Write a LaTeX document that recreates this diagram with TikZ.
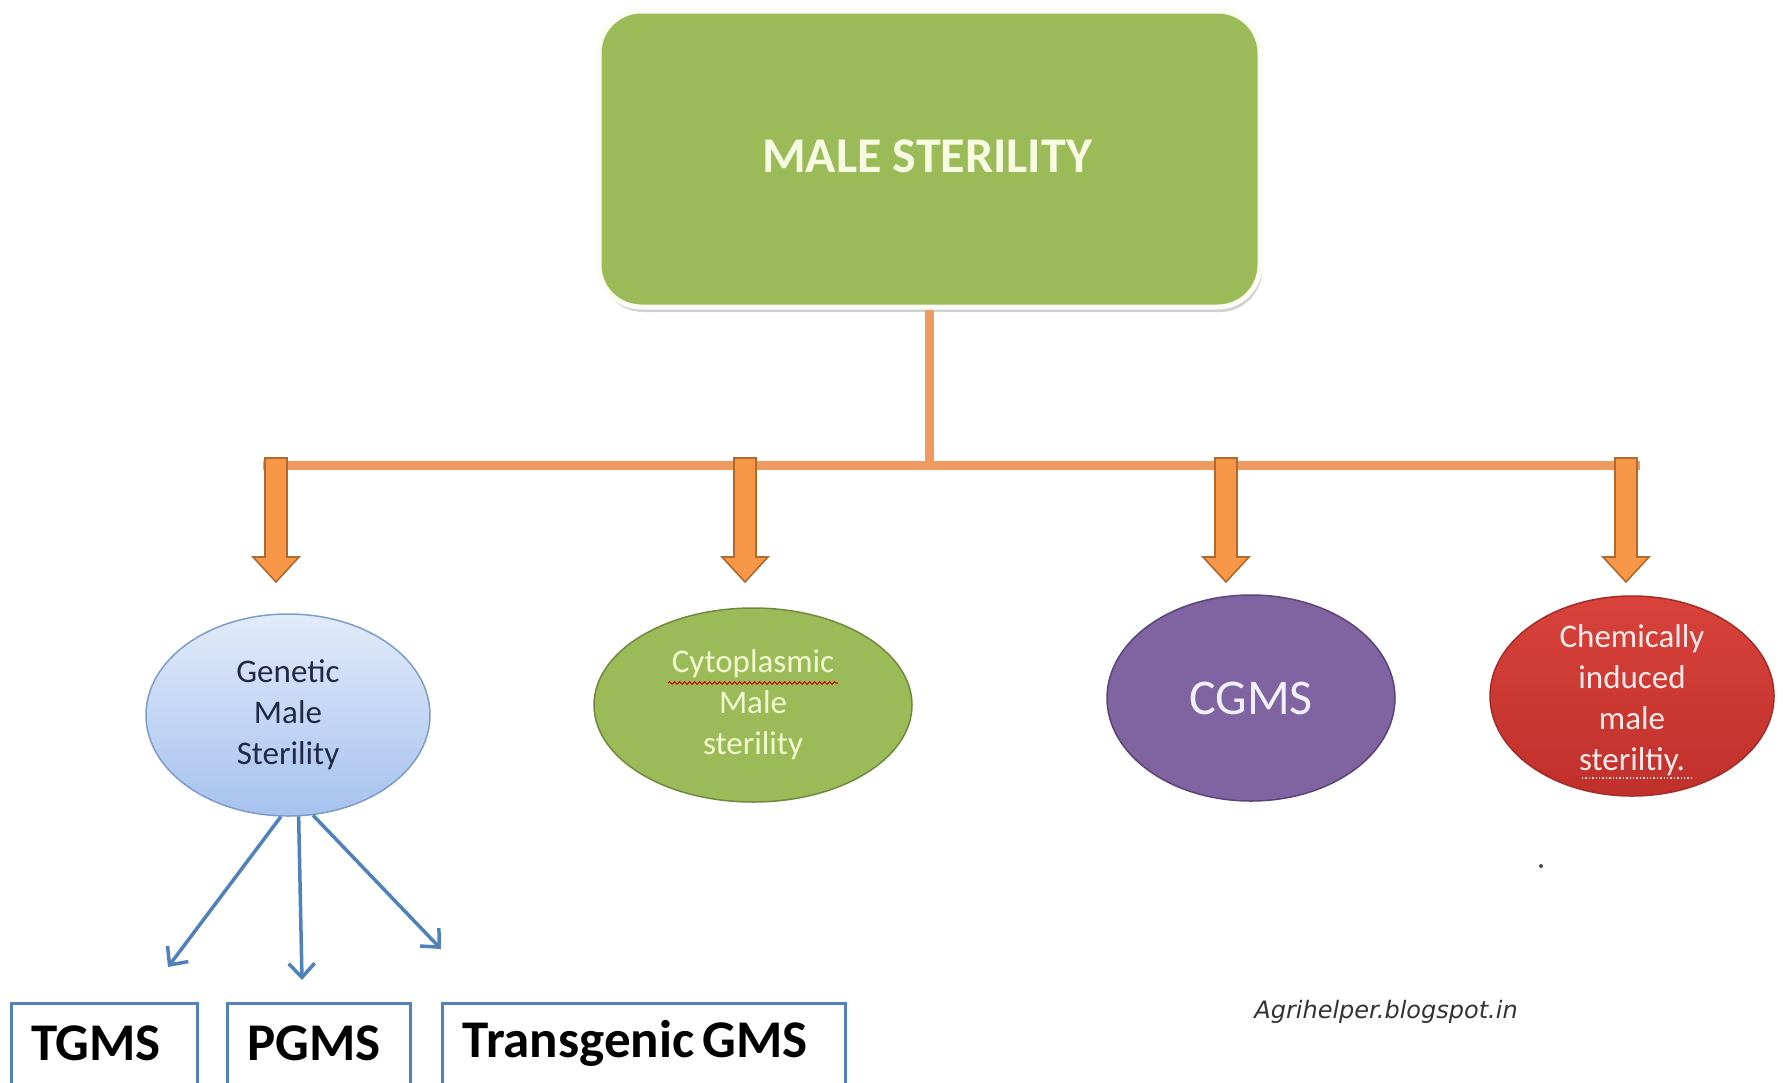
\documentclass[tikz,border=0pt]{standalone}
\usepackage{fontspec}
\setmainfont{Carlito}
\newfontfamily\wmfont{DejaVu Sans}
\usetikzlibrary{shapes.geometric,arrows.meta,decorations.pathmorphing,shadows}
\definecolor{topgreen}{HTML}{9BBB59}
\definecolor{topedge}{HTML}{FBFDF2}
\definecolor{toptext}{HTML}{F6FBE2}
\definecolor{barorange}{HTML}{EE9A60}
\definecolor{arrorange}{HTML}{F79646}
\definecolor{arrdark}{HTML}{B0692F}
\definecolor{genlight}{HTML}{E2EBFA}
\definecolor{gendark}{HTML}{A6C2EE}
\definecolor{genedge}{HTML}{7F9CC8}
\definecolor{gentext}{HTML}{1F2A44}
\definecolor{cytogreen}{HTML}{9BBB59}
\definecolor{cytoedge}{HTML}{71893F}
\definecolor{cytotext}{HTML}{F4F8D0}
\definecolor{cgmspurple}{HTML}{8064A2}
\definecolor{cgmsedge}{HTML}{5A4575}
\definecolor{chemred}{HTML}{D8423B}
\definecolor{chemdark}{HTML}{C0302B}
\definecolor{chemedge}{HTML}{A52C28}
\definecolor{blueline}{HTML}{4F81BD}
\definecolor{boxedge}{HTML}{5282BA}
\definecolor{wmgray}{HTML}{333333}
\tikzset{
  barline/.style={draw=barorange, line width=9pt},
  barrow/.pic={\filldraw[fill=arrorange, draw=arrdark, line width=1.6pt, line join=miter]
     (-11,0) -- (-11,99) -- (-23,99) -- (0,124) -- (23,99) -- (11,99) -- (11,0) -- cycle;},
  blob/.style={ellipse, inner sep=0pt, line width=1.5pt},
  etext/.style={align=center, font=\fontsize{33}{41}\selectfont},
  bluearrow/.style={draw=blueline, line width=3.5pt, -{Straight Barb[length=14pt,width=26pt,line width=3.5pt]}},
  gbox/.style={draw=boxedge, line width=3pt, inner sep=0pt},
  gtext/.style={font=\bfseries\fontsize{53}{60}\selectfont}
}
\begin{document}
\begin{tikzpicture}[x=1pt,y=-1pt]
\useasboundingbox (0,0) rectangle (1783,1082);
\clip (0,0) rectangle (1783,1082);
\fill[white] (0,0) rectangle (1783,1082);

% top box
\node[rounded corners=42pt, fill=topgreen, draw=topedge, line width=5pt,
      minimum width=661pt, minimum height=296pt,
      drop shadow={shadow xshift=2pt, shadow yshift=-5pt, fill=black, opacity=0.18}] (top) at (929.5,159) {};
\node[text=toptext, font=\bfseries\fontsize{50}{60}\selectfont] (topT) at (927,156) {MALE STERILITY};

% bar and stem
\coordinate (barL) at (263,465);
\coordinate (barR) at (1640,465);
\draw[barline] (top.south) -- (top.south |- barL);
\draw[barline] (barL) -- (barR);

% block arrows
\coordinate (b1) at (276,458);
\coordinate (b2) at (745,458);
\coordinate (b3) at (1226,458);
\coordinate (b4) at (1626,458);
\pic at (b1) {barrow};
\pic at (b2) {barrow};
\pic at (b3) {barrow};
\pic at (b4) {barrow};

% ellipses
\node[blob, top color=genlight, bottom color=gendark, draw=genedge,
      minimum width=284pt, minimum height=202pt] (gen) at (288,715) {};
\node[etext, text=gentext] (genT) at (gen) {Genetic\\Male\\Sterility};

\node[blob, fill=cytogreen, draw=cytoedge,
      minimum width=318pt, minimum height=194pt] (cyto) at (753,705) {};
\node[etext, text=cytotext] (cytoT) at (cyto) {Cytoplasmic\\Male\\sterility};
\coordinate (wavyL) at (668,683);
\coordinate (wavyR) at (838,683);
\draw[red!80!black, line width=1pt, decorate, decoration={snake, amplitude=1.3pt, segment length=5pt}] (wavyL) -- (wavyR);

\node[blob, fill=cgmspurple, draw=cgmsedge,
      minimum width=288pt, minimum height=206pt] (cgms) at (1251,698) {};
\node[text=white!94!blue, font=\fontsize{50}{60}\selectfont] (cgmsT) at (cgms) {CGMS};

\node[blob, top color=chemred, bottom color=chemdark, draw=chemedge,
      minimum width=284pt, minimum height=200pt] (chem) at (1632,696) {};
\node[etext, text=white!92!red] (chemT) at (1632,700) {Chemically\\induced\\male\\steriltiy.};
\coordinate (dotL) at (1582,778);
\coordinate (dotR) at (1692,778);
\draw[white!85!red, line width=1.4pt, dotted] (dotL) -- (dotR);

% blue arrows
\coordinate (tA) at (168,967);
\coordinate (tB) at (302,980);
\coordinate (tC) at (441,949);
\draw[bluearrow] (gen.266) -- (tA);
\draw[bluearrow] (gen.276) -- (tB);
\draw[bluearrow] (gen.284) -- (tC);

% boxes
\node[gbox, minimum width=186pt, minimum height=90pt] (tgms) at (104,1048) {};
\node[gtext] (tgmsT) at (96,1043) {TGMS};
\node[gbox, minimum width=183pt, minimum height=90pt] (pgms) at (318.5,1048) {};
\node[gtext] (pgmsT) at (314,1043) {PGMS};
\node[gbox, minimum width=403pt, minimum height=90pt] (tran) at (643.5,1048) {};
\node[gtext] (tranT) at (635,1043) {Transgenic\hspace{-4pt} GMS};

% watermark and dot
\node[text=wmgray, font=\wmfont\itshape\fontsize{24}{28}\selectfont] (wm) at (1386,1012) {Agrihelper.blogspot.in};
\fill[black!70] (1541,866) circle (2pt) coordinate (dot);
\end{tikzpicture}
\end{document}
